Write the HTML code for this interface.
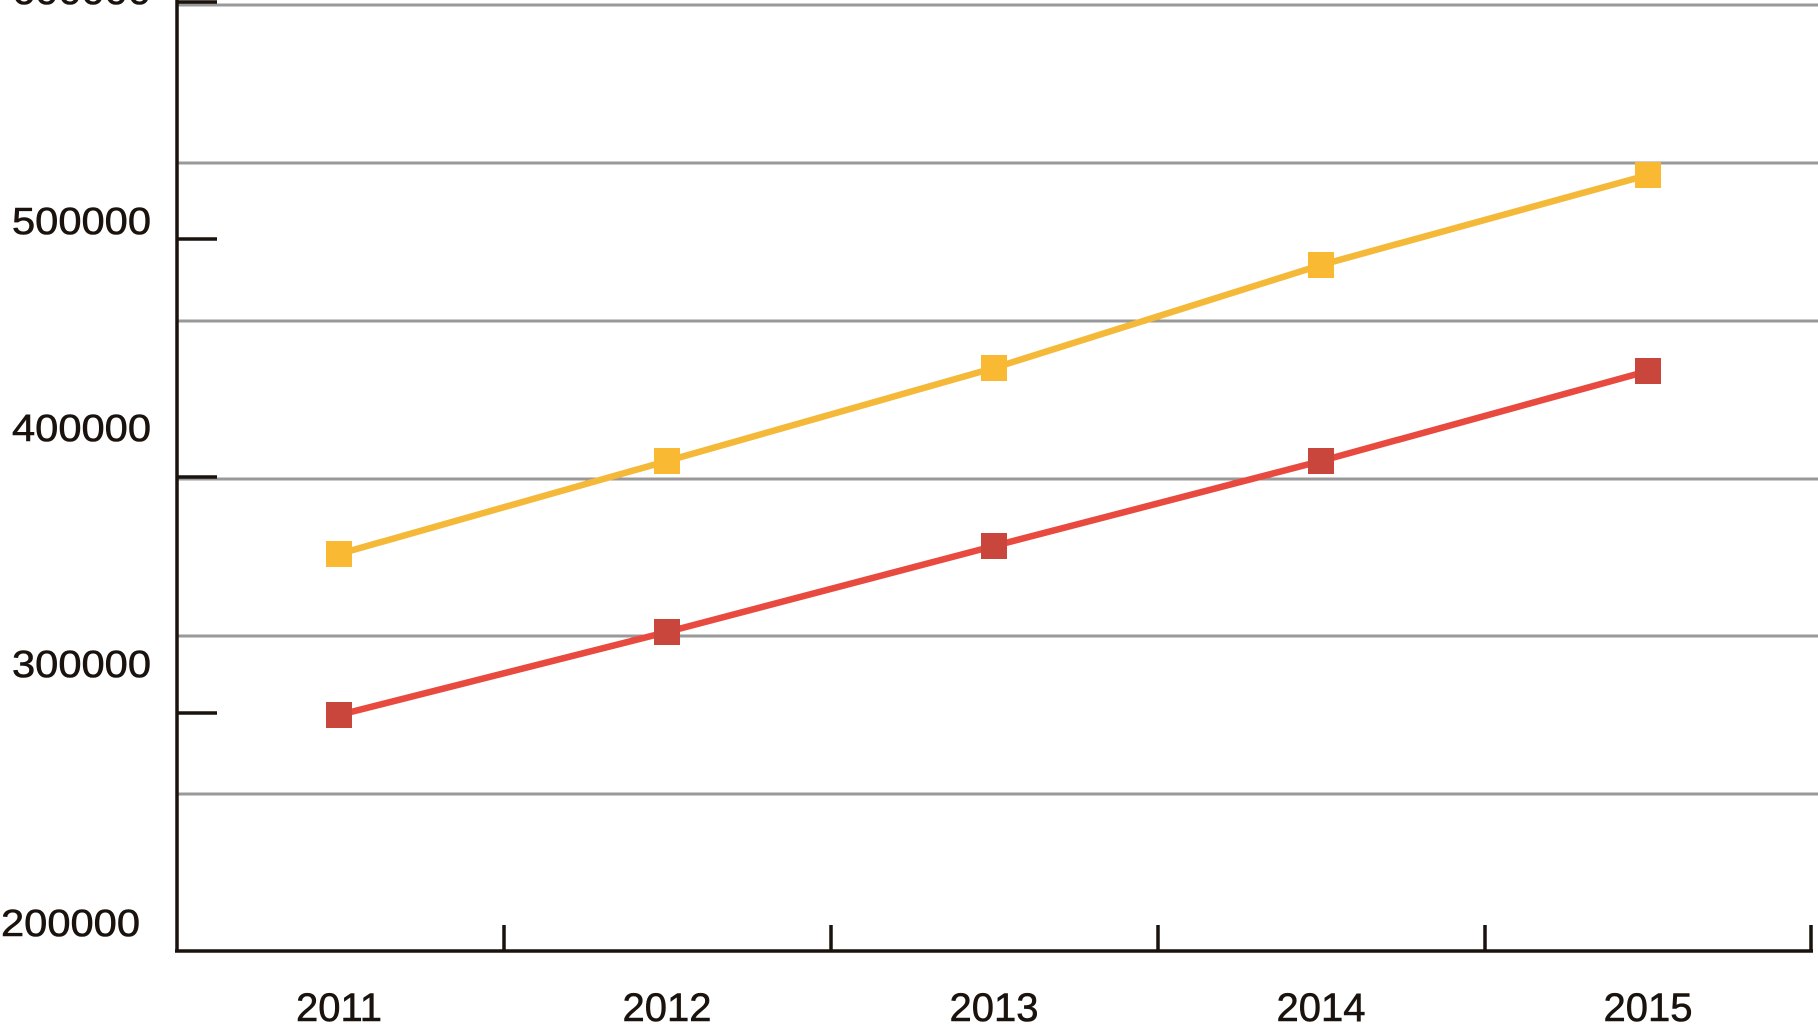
<!DOCTYPE html>
<html><head><style>body{margin:0;background:#fff}svg{display:block}</style></head><body>
<svg width="1818" height="1033" viewBox="0 0 1818 1033" xmlns="http://www.w3.org/2000/svg" font-family="Liberation Sans, sans-serif" fill="#1a120d">
<g stroke="#999" stroke-width="3">
<line x1="178" y1="5" x2="1818" y2="5"/>
<line x1="178" y1="163" x2="1818" y2="163"/>
<line x1="178" y1="321" x2="1818" y2="321"/>
<line x1="178" y1="479" x2="1818" y2="479"/>
<line x1="178" y1="636" x2="1818" y2="636"/>
<line x1="178" y1="794" x2="1818" y2="794"/>
</g>
<g stroke="#1a120d" stroke-width="3.5">
<line x1="177" y1="0" x2="177" y2="951"/>
<line x1="175" y1="951" x2="1813" y2="951"/>
<line x1="177" y1="2" x2="217" y2="2"/>
<line x1="177" y1="239" x2="217" y2="239"/>
<line x1="177" y1="477" x2="217" y2="477"/>
<line x1="177" y1="713" x2="217" y2="713"/>
<line x1="504" y1="925" x2="504" y2="951"/>
<line x1="831" y1="925" x2="831" y2="951"/>
<line x1="1158" y1="925" x2="1158" y2="951"/>
<line x1="1485" y1="925" x2="1485" y2="951"/>
<line x1="1811" y1="925" x2="1811" y2="951"/>
</g>
<g font-size="38" stroke="#1a120d" stroke-width="0.6">
<text x="12" y="234" textLength="139" lengthAdjust="spacingAndGlyphs">500000</text>
<text x="12" y="441" textLength="139" lengthAdjust="spacingAndGlyphs">400000</text>
<text x="12" y="677" textLength="139" lengthAdjust="spacingAndGlyphs">300000</text>
<text x="1" y="936" textLength="139" lengthAdjust="spacingAndGlyphs">200000</text>
<text x="12" y="4" textLength="139" lengthAdjust="spacingAndGlyphs">600000</text>
</g>
<g font-size="40" text-anchor="middle" stroke="#1a120d" stroke-width="0.6">
<text x="339" y="1021">2011</text>
<text x="667" y="1021">2012</text>
<text x="994" y="1021">2013</text>
<text x="1321" y="1021">2014</text>
<text x="1648" y="1021">2015</text>
</g>
<polyline points="339,554 667,461 994,368 1321,265 1648,175" fill="none" stroke="#f5b93a" stroke-width="6.5"/>
<polyline points="339,715 667,632 994,546 1321,461 1648,371" fill="none" stroke="#e84a3f" stroke-width="6.5"/>
<g fill="#f9b933">
<rect x="326" y="541" width="26" height="26"/><rect x="654" y="448" width="26" height="26"/><rect x="981" y="355" width="26" height="26"/><rect x="1308" y="252" width="26" height="26"/><rect x="1635" y="162" width="26" height="26"/>
</g>
<g fill="#c9463d">
<rect x="326" y="702" width="26" height="26"/><rect x="654" y="619" width="26" height="26"/><rect x="981" y="533" width="26" height="26"/><rect x="1308" y="448" width="26" height="26"/><rect x="1635" y="358" width="26" height="26"/>
</g>
</svg>
</body></html>
